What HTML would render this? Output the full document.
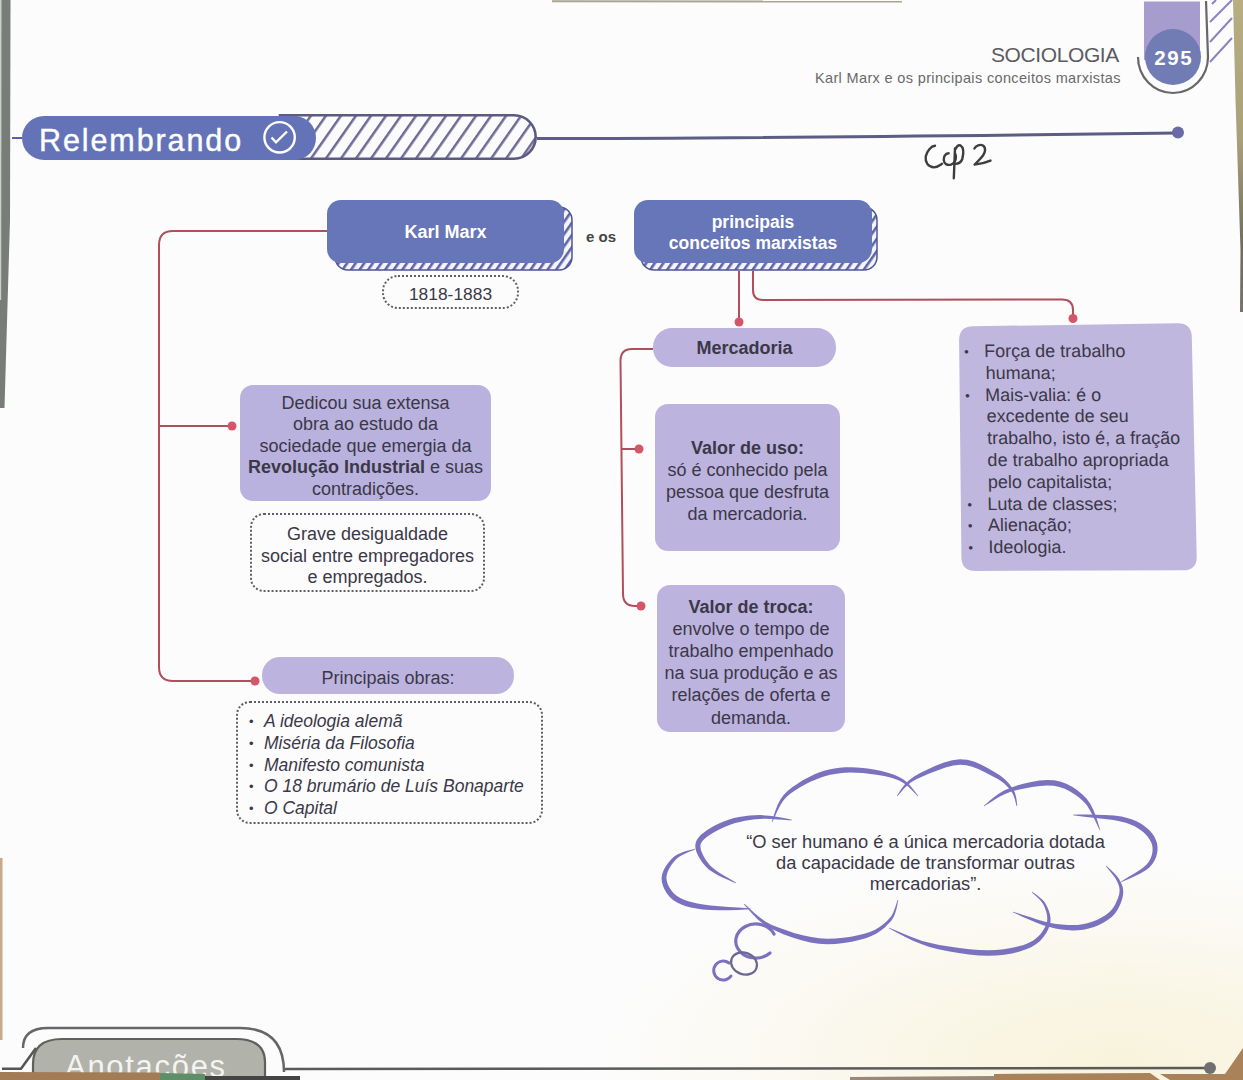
<!DOCTYPE html>
<html><head><meta charset="utf-8">
<style>
html,body{margin:0;padding:0;}
body{width:1243px;height:1080px;position:relative;overflow:hidden;background:#fcfcfc;font-family:"Liberation Sans",sans-serif;color:#3b3848;}
.a{position:absolute;}
svg.ov{position:absolute;left:0;top:0;}
.box{position:absolute;background:#bcb3de;border-radius:13px;}
.t{position:absolute;text-align:center;font-size:18px;line-height:21.6px;white-space:nowrap;}
.blue{position:absolute;background:#6676b8;border-radius:14px;}
.wt{color:#fff;font-weight:bold;}
.dot{position:absolute;border:2px dotted #5e5e66;border-radius:14px;}
b{font-weight:bold;}
.bl{position:absolute;left:2px;top:0;font-size:13px;}
</style></head><body>

<div class="a" style="left:0;top:0;width:1243px;height:1080px;background:radial-gradient(ellipse 520px 200px at 1120px 1060px, rgba(247,239,205,0.7), rgba(247,239,205,0) 100%);"></div>
<svg class="ov" width="1243" height="1080" viewBox="0 0 1243 1080">
<defs>
<pattern id="h1" patternUnits="userSpaceOnUse" width="12.3" height="20" patternTransform="rotate(35)">
<rect width="12.3" height="20" fill="#fbfbfd"/><rect x="0" y="0" width="2.5" height="20" fill="#6d6b94"/>
</pattern>
<pattern id="h2" patternUnits="userSpaceOnUse" width="7" height="7" patternTransform="rotate(35)">
<rect width="7" height="7" fill="#f4f4fa"/><rect x="0" y="0" width="2.6" height="7" fill="#5f66a8"/>
</pattern>
</defs>
<!-- left dark bar -->
<path d="M0 0 L10.5 0 L10 220 L4.5 408 L0 408Z" fill="#787d78"/><path d="M0 0 L1.5 0 L1.2 300 L0 300Z" fill="#c9d0c9"/>
<!-- top edge -->
<path d="M552 1.2 L902 1.6" stroke="#8c8870" stroke-width="2" opacity="0.75"/>
<!-- right strip -->
<linearGradient id="ks" x1="0" y1="0" x2="0" y2="1"><stop offset="0" stop-color="#b9ae80"/><stop offset="0.45" stop-color="#a9a07a"/><stop offset="0.8" stop-color="#6f6b5c"/><stop offset="1" stop-color="#77746a"/></linearGradient>
<path d="M1233 0 L1243 0 L1243 312 L1240 312 L1240.5 250 L1235.5 100Z" fill="url(#ks)"/>
<path d="M0 858 L2.5 858 L2.5 1040 L0 1040Z" fill="#c9a98a"/>

<!-- Relembrando hatched pill -->
<path d="M280 115.3 L514 115.3 A21.7 21.7 0 0 1 514 158.7 L280 158.7Z" fill="url(#h1)" stroke="#5a5a82" stroke-width="2.6"/>
<path d="M22 138 A22 22 0 0 1 44 116 L296 116 A22 22 0 0 1 316 138 A22 22 0 0 1 296 160 L44 160 A22 22 0 0 1 22 138Z" fill="#6473b8"/>
<path d="M12 138 L22 138" stroke="#5d5f9e" stroke-width="2"/>
<path d="M537 138.5 Q 760 138.3 1178 133" fill="none" stroke="#5b5d85" stroke-width="3"/>
<circle cx="1178" cy="132.5" r="6" fill="#6b6aa8"/>
<circle cx="279.6" cy="137.3" r="15.2" fill="none" stroke="#fff" stroke-width="2.4"/>
<path d="M271.5 137.5 L276 142.3 L287 131.5" fill="none" stroke="#fff" stroke-width="2.4"/>

<!-- page tab -->
<path d="M1144 1.5 L1200 1.5 L1200 60 L1144 60Z" fill="#a79cce"/>
<circle cx="1173" cy="57" r="28" fill="#717cb4"/>
<path d="M1138 57 A35 36 0 0 0 1208 57 L1206 1" fill="none" stroke="#66666c" stroke-width="2.2"/>
<path d="M1210 62 L1232 38 M1210 42 L1232 18 M1210 22 L1232 0 M1212 4 L1216 0" stroke="#8a84c0" stroke-width="2"/>

<!-- blue box shadows -->
<rect x="335" y="207" width="237" height="63" rx="13" fill="url(#h2)" stroke="#4f5595" stroke-width="1.5"/>
<rect x="641" y="207" width="236" height="63" rx="13" fill="url(#h2)" stroke="#4f5595" stroke-width="1.5"/>

<!-- red connectors -->
<g fill="none" stroke="#b04e5d" stroke-width="2">
<path d="M327 231 L173 231 Q159 231 159 245 L159 667 Q159 681 173 681 L255 681"/>
<path d="M159 426 L232 426"/>
<path d="M739 271 L739 322"/>
<path d="M753 271 L753 290 Q753 300 763 300 L1062 299.5 Q1073 299.5 1073 310 L1073 318"/>
<path d="M653 349 L632 349 Q620.5 349 620.5 361 L623 594 Q623.2 606 635 606 L641 606"/>
<path d="M622 449 L639 449"/>
</g>
<g fill="#d5566a">
<circle cx="232" cy="426" r="4.5"/>
<circle cx="255" cy="681" r="4.5"/>
<circle cx="739" cy="322" r="4.5"/>
<circle cx="1073" cy="318.5" r="4.5"/>
<circle cx="639" cy="449" r="4.5"/>
<circle cx="641" cy="606" r="4.5"/>
</g>

<!-- cloud -->
<g fill="#7a72bf">
<path d="M772.3 822.1 L773.7 819.3 L775.5 815.3 L777.6 810.6 L780.1 805.7 L783.0 801.1 L786.2 797.2 L790.2 793.7 L794.9 790.4 L800.1 787.2 L805.5 784.3 L810.9 781.6 L816.0 779.4 L820.9 777.5 L825.6 776.0 L830.3 774.8 L835.1 773.9 L840.0 773.2 L845.1 772.7 L850.7 772.6 L856.6 772.7 L862.7 773.1 L868.7 773.7 L874.4 774.4 L879.6 775.2 L884.2 776.0 L888.3 776.9 L892.2 778.0 L895.7 779.2 L899.1 780.6 L902.2 782.2 L905.3 784.2 L908.4 786.8 L911.3 789.6 L913.9 792.3 L916.1 794.6 L917.8 796.2 L918.2 795.8 L916.8 794.0 L914.9 791.4 L912.6 788.4 L909.9 785.3 L906.9 782.3 L903.8 779.8 L900.5 777.8 L897.0 776.1 L893.3 774.5 L889.4 773.2 L885.1 771.9 L880.4 770.8 L875.2 769.8 L869.4 768.8 L863.2 768.0 L856.9 767.4 L850.7 767.2 L844.9 767.3 L839.4 767.7 L834.2 768.4 L829.1 769.5 L824.0 770.8 L819.0 772.5 L814.0 774.6 L808.7 777.2 L803.2 780.1 L797.8 783.4 L792.6 787.0 L787.8 790.8 L783.8 794.8 L780.4 799.4 L777.8 804.5 L775.7 809.8 L774.0 814.7 L772.7 818.9 L771.7 821.9Z"/>
<path d="M792.0 819.7 L788.6 819.0 L783.7 818.1 L778.0 817.0 L771.8 816.1 L765.7 815.4 L760.0 815.1 L754.7 815.2 L749.4 815.6 L744.2 816.2 L739.0 817.0 L734.0 818.1 L729.2 819.5 L724.3 821.2 L719.5 823.3 L714.8 825.6 L710.4 828.0 L706.5 830.5 L703.3 832.9 L700.7 835.1 L698.6 837.4 L696.9 839.7 L695.8 842.4 L695.3 845.3 L695.5 848.4 L696.4 851.7 L697.9 855.3 L700.0 859.0 L702.5 862.7 L705.5 866.2 L708.8 869.4 L712.9 872.3 L717.9 875.2 L723.2 877.8 L728.4 880.1 L732.7 881.9 L735.9 883.3 L736.1 882.7 L733.3 880.9 L729.1 878.5 L724.3 875.7 L719.3 872.7 L714.8 869.6 L711.2 866.6 L708.5 863.6 L706.0 860.2 L703.9 856.7 L702.2 853.3 L701.0 850.2 L700.5 847.6 L700.4 845.6 L700.7 843.9 L701.4 842.4 L702.6 840.8 L704.4 839.0 L706.7 837.1 L709.6 835.0 L713.2 832.7 L717.3 830.4 L721.8 828.2 L726.3 826.2 L730.8 824.5 L735.3 823.1 L740.1 821.9 L744.9 820.8 L749.9 820.0 L755.0 819.3 L760.0 818.9 L765.5 818.8 L771.6 819.0 L777.7 819.4 L783.5 819.8 L788.4 820.2 L792.0 820.3Z"/>
<path d="M694.9 848.7 L692.5 849.4 L689.2 850.2 L685.3 851.3 L681.2 852.7 L677.3 854.5 L673.9 856.8 L671.1 859.5 L668.3 862.7 L665.8 866.3 L663.7 870.1 L662.2 874.0 L661.6 878.0 L661.9 881.9 L663.0 886.0 L664.8 889.9 L667.1 893.7 L670.0 897.2 L673.4 900.2 L677.1 902.6 L681.3 904.6 L685.9 906.2 L690.9 907.5 L696.5 908.6 L702.7 909.4 L710.2 910.0 L719.2 910.2 L728.7 910.2 L737.8 909.9 L745.5 909.6 L751.0 909.3 L751.0 908.7 L745.6 908.1 L737.8 907.6 L728.8 906.9 L719.4 906.3 L710.6 905.5 L703.3 904.6 L697.4 903.5 L692.2 902.3 L687.5 901.0 L683.4 899.5 L679.8 897.8 L676.6 895.8 L673.9 893.4 L671.4 890.6 L669.4 887.4 L667.8 884.2 L666.8 881.0 L666.4 878.0 L666.7 875.1 L667.7 871.8 L669.3 868.4 L671.4 865.0 L673.7 861.9 L676.1 859.2 L678.8 857.0 L682.3 855.0 L686.0 853.2 L689.7 851.6 L692.9 850.4 L695.1 849.3Z"/>
<path d="M743.8 904.2 L746.2 906.9 L749.3 910.5 L753.2 914.8 L757.8 919.4 L763.1 923.8 L769.2 927.6 L776.1 931.0 L784.0 934.4 L792.5 937.5 L801.4 940.2 L810.2 942.4 L818.7 943.7 L827.0 944.2 L835.5 943.9 L843.8 943.1 L851.8 941.7 L859.1 940.1 L865.7 938.2 L871.4 936.0 L876.5 933.4 L880.9 930.5 L884.8 927.4 L888.1 924.1 L891.1 920.9 L893.5 917.3 L895.2 913.3 L896.4 909.3 L897.2 905.5 L897.8 902.3 L898.3 900.1 L897.7 899.9 L896.9 902.1 L895.9 905.2 L894.7 908.7 L893.3 912.5 L891.4 916.0 L888.9 919.1 L886.0 921.9 L882.6 924.7 L878.8 927.4 L874.6 929.9 L869.8 932.0 L864.3 933.8 L858.0 935.3 L850.9 936.7 L843.2 937.8 L835.2 938.5 L827.1 938.7 L819.3 938.3 L811.2 937.1 L802.7 935.2 L794.0 932.9 L785.5 930.1 L777.7 927.3 L770.8 924.4 L764.9 921.2 L759.5 917.3 L754.7 913.3 L750.5 909.4 L747.0 906.1 L744.2 903.8Z"/>
<path d="M888.9 928.3 L893.0 930.5 L898.6 933.5 L905.4 937.1 L913.0 940.7 L921.2 944.1 L929.5 946.9 L938.4 949.2 L948.3 951.3 L958.6 953.1 L968.9 954.5 L978.9 955.4 L988.0 955.7 L996.4 955.5 L1004.4 954.7 L1012.0 953.4 L1019.0 951.7 L1025.4 949.6 L1031.1 947.2 L1035.9 944.3 L1040.1 940.9 L1043.4 937.1 L1046.1 933.2 L1048.2 929.3 L1049.7 925.6 L1050.5 921.8 L1050.5 918.0 L1049.9 914.3 L1048.8 910.7 L1047.5 907.4 L1046.0 904.4 L1044.1 901.6 L1041.6 899.0 L1038.8 896.7 L1036.1 894.6 L1033.8 893.0 L1032.2 891.8 L1031.8 892.2 L1033.2 893.7 L1035.4 895.6 L1037.8 897.8 L1040.3 900.3 L1042.4 902.9 L1044.0 905.6 L1045.1 908.4 L1046.2 911.6 L1047.0 914.9 L1047.3 918.2 L1047.1 921.4 L1046.3 924.4 L1044.8 927.6 L1042.7 931.0 L1040.2 934.4 L1037.0 937.6 L1033.3 940.4 L1028.9 942.8 L1023.7 944.9 L1017.7 946.6 L1011.0 948.1 L1003.7 949.3 L996.0 950.0 L988.0 950.3 L979.2 950.0 L969.5 949.2 L959.3 948.1 L949.1 946.6 L939.3 944.9 L930.5 943.1 L922.3 940.9 L914.1 938.0 L906.4 934.9 L899.4 932.0 L893.5 929.4 L889.1 927.7Z"/>
<path d="M897.2 796.2 L899.1 794.3 L901.3 791.7 L904.0 788.6 L907.2 785.4 L911.1 782.3 L915.9 779.5 L921.9 776.7 L929.3 773.5 L937.3 770.4 L945.5 767.6 L953.3 765.6 L960.1 764.7 L966.2 765.2 L972.2 766.7 L978.2 768.9 L983.9 771.7 L989.2 774.4 L993.9 776.9 L997.9 779.1 L1001.3 781.3 L1004.2 783.6 L1006.7 786.0 L1008.9 788.3 L1010.9 790.7 L1012.5 793.3 L1013.8 796.2 L1014.8 799.1 L1015.5 801.9 L1016.1 804.3 L1016.7 806.1 L1017.3 805.9 L1017.1 804.2 L1016.8 801.7 L1016.4 798.7 L1015.7 795.5 L1014.7 792.3 L1013.1 789.3 L1011.2 786.5 L1009.1 783.7 L1006.6 781.0 L1003.6 778.3 L1000.1 775.6 L996.1 773.1 L991.5 770.3 L986.2 767.2 L980.3 764.2 L973.9 761.5 L967.1 759.8 L959.9 759.3 L952.2 760.3 L944.0 762.6 L935.5 765.8 L927.5 769.4 L920.2 773.1 L914.1 776.5 L909.3 779.9 L905.5 783.6 L902.4 787.4 L900.1 790.8 L898.2 793.7 L896.8 795.8Z"/>
<path d="M984.2 806.2 L987.0 804.6 L990.6 802.2 L994.9 799.4 L999.8 796.5 L1005.1 793.9 L1010.7 791.8 L1017.0 790.1 L1024.4 788.5 L1032.2 787.0 L1039.9 785.9 L1047.3 785.4 L1053.7 785.7 L1059.4 786.9 L1064.8 788.8 L1070.0 791.4 L1074.9 794.4 L1079.4 797.8 L1083.5 801.4 L1087.1 805.6 L1090.3 810.9 L1093.3 816.6 L1095.8 822.1 L1098.0 826.8 L1099.7 830.1 L1100.3 829.9 L1099.1 826.4 L1097.6 821.4 L1095.6 815.6 L1093.2 809.4 L1090.1 803.6 L1086.5 798.6 L1082.4 794.4 L1077.7 790.5 L1072.6 787.0 L1066.9 784.0 L1060.9 781.7 L1054.3 780.3 L1047.2 779.9 L1039.3 780.5 L1031.2 781.9 L1023.3 783.8 L1015.8 785.9 L1009.3 788.2 L1003.6 790.8 L998.3 794.0 L993.6 797.5 L989.6 800.8 L986.3 803.7 L983.8 805.8Z"/>
<path d="M1073.0 815.3 L1078.5 816.1 L1086.3 817.0 L1095.4 817.9 L1104.8 819.0 L1113.6 820.1 L1120.5 821.4 L1125.8 822.8 L1130.4 824.4 L1134.2 826.1 L1137.5 828.0 L1140.5 830.0 L1143.2 832.1 L1145.7 834.4 L1147.8 836.8 L1149.6 839.4 L1151.0 842.0 L1152.0 844.6 L1152.5 847.2 L1152.6 850.0 L1152.3 852.8 L1151.6 855.8 L1150.5 858.8 L1148.8 861.8 L1146.6 864.6 L1143.3 867.6 L1138.7 870.8 L1133.5 874.1 L1128.3 877.1 L1123.9 879.7 L1120.9 881.7 L1121.1 882.3 L1124.5 880.8 L1129.2 878.8 L1134.7 876.3 L1140.3 873.5 L1145.4 870.5 L1149.4 867.4 L1152.2 864.2 L1154.4 860.8 L1156.0 857.3 L1157.0 853.7 L1157.5 850.2 L1157.5 846.8 L1157.0 843.3 L1155.9 839.9 L1154.3 836.6 L1152.2 833.5 L1149.6 830.6 L1146.8 827.9 L1143.7 825.5 L1140.3 823.3 L1136.6 821.3 L1132.2 819.4 L1127.3 817.9 L1121.5 816.6 L1114.1 815.6 L1105.2 815.0 L1095.6 814.7 L1086.4 814.6 L1078.5 814.6 L1073.0 814.7Z"/>
<path d="M1105.8 866.2 L1107.1 867.8 L1109.0 870.1 L1111.2 872.7 L1113.4 875.4 L1115.4 878.2 L1116.8 880.7 L1117.8 883.0 L1118.7 885.3 L1119.3 887.5 L1119.6 889.8 L1119.5 892.1 L1119.1 894.6 L1118.2 897.5 L1116.9 900.8 L1115.3 904.2 L1113.4 907.4 L1111.0 910.5 L1108.3 913.1 L1105.0 915.4 L1101.1 917.8 L1096.8 919.9 L1092.1 921.7 L1087.3 923.2 L1082.5 924.3 L1077.7 924.9 L1072.6 925.1 L1067.3 925.0 L1061.8 924.6 L1056.2 923.9 L1050.5 922.9 L1044.2 921.5 L1037.1 919.4 L1029.9 917.1 L1023.1 914.9 L1017.3 912.9 L1013.1 911.7 L1012.9 912.3 L1016.8 914.1 L1022.4 916.7 L1029.0 919.6 L1036.0 922.6 L1043.1 925.2 L1049.5 927.1 L1055.4 928.4 L1061.2 929.4 L1066.9 930.1 L1072.6 930.4 L1078.1 930.3 L1083.5 929.7 L1088.7 928.6 L1094.0 926.9 L1099.0 924.9 L1103.7 922.5 L1108.0 919.8 L1111.7 916.9 L1114.8 913.7 L1117.4 910.0 L1119.4 906.2 L1121.0 902.4 L1122.2 898.8 L1122.9 895.4 L1123.3 892.3 L1123.1 889.4 L1122.6 886.7 L1121.7 884.2 L1120.5 881.8 L1119.2 879.3 L1117.4 876.7 L1115.0 874.1 L1112.5 871.5 L1109.9 869.1 L1107.8 867.2 L1106.2 865.8Z"/>
</g>
<g fill="none" stroke="#7a72bf" stroke-linecap="round">
<path d="M774 934 A20 17 0 1 0 770 953" stroke-width="3.2"/>
<ellipse cx="744" cy="963.5" rx="13.2" ry="10.8" stroke="#6a6890" stroke-width="2.2" transform="rotate(20 744 963.5)"/>
<path d="M729 963 A9.5 9.5 0 1 0 731 976" stroke-width="3"/>
</g>
<!-- bottom line -->
<path d="M284 1069 L1210 1068" stroke="#5a5a5a" stroke-width="2.5"/>
<circle cx="1210" cy="1068" r="6" fill="#707070"/>
<path d="M2 1068.7 L21 1068.7 L36 1048" fill="none" stroke="#555" stroke-width="2.5"/>
<path d="M23 1048 Q23 1028 48 1028 L240 1028 Q284 1028 284 1072" fill="none" stroke="#666" stroke-width="2.5"/>
<path d="M62 1039 L236 1039 Q265 1039 265 1062 L265 1080 L33 1080 L33 1064 Q33 1039 62 1039Z" fill="#b1b2a9" stroke="#5f605a" stroke-width="2.2"/>
<path d="M994 1074 L1150 1073 L1160 1080 L994 1080Z" fill="#a9825a"/><path d="M1160 1074 L1225 1074 L1243 1048 L1243 1080 L1170 1080Z" fill="#a9825a"/><path d="M850 1077 L994 1076 L994 1080 L850 1080Z" fill="#6d5a48" opacity="0.7"/>

<!-- Cap 2 handwriting -->
<g fill="none" stroke="#3d3d3d" stroke-width="2.4" stroke-linecap="round" stroke-linejoin="round">
<path d="M935 145.7 C 931 146, 927 151, 925.7 156.5 C 925 162, 928 167, 934 167.4 C 937.5 167.4, 940 165, 942 163.8"/>
<path d="M948.6 153.3 C 945 153.5, 943.5 157, 943.8 160 C 944 164, 947 165.5, 951 164.6 C 954 163.5, 956 160, 955.9 157 C 955.8 154.5, 955 153.3, 955 153.3"/>
<path d="M955 148.5 L 953.8 178.3"/>
<path d="M955.9 148.5 C 957 146, 959 145, 960.5 145.5 C 963 147, 964 152, 962.3 159 C 961 162.5, 958 164.3, 953.8 163.8"/>
<path d="M974.4 148.5 C 976 145.5, 980 144, 983 145.5 C 986 147.5, 985.5 152, 983 155.5 C 980.5 159, 976.5 162.5, 974.6 164.6 C 979 164.2, 986 162.5, 990.5 160.6"/>
</g>
</svg>

<!-- header text -->
<div class="a" id="soc" style="left:991px;top:43px;font-size:21px;color:#5b5b60;letter-spacing:-0.4px;line-height:24px;">SOCIOLOGIA</div>
<div class="a" id="sub" style="left:815px;top:69px;font-size:14.5px;color:#6a6a6a;letter-spacing:0.35px;line-height:18px;white-space:nowrap;">Karl Marx e os principais conceitos marxistas</div>
<div class="a" id="pn" style="left:1145px;top:46px;width:56px;text-align:center;font-size:20.5px;font-weight:bold;color:#fff;line-height:24px;letter-spacing:1.6px;text-indent:1.6px;">295</div>

<div class="a" id="rel" style="left:39px;top:121.5px;font-size:30.5px;color:#fff;letter-spacing:1.9px;line-height:36px;-webkit-text-stroke:0.4px #fff;">Relembrando</div>

<!-- blue boxes -->
<div class="blue" style="left:327px;top:200px;width:237px;height:63px;"></div>
<div class="t wt" id="km" style="left:327px;top:221.5px;width:237px;">Karl Marx</div>
<div class="a" id="eos" style="left:586px;top:227px;font-size:15px;font-weight:bold;color:#444;line-height:20px;">e os</div>
<div class="blue" style="left:634px;top:200px;width:238px;height:63px;"></div>
<div class="t wt" id="pc" style="left:634px;top:212px;width:238px;font-size:17.5px;line-height:21px;">principais<br>conceitos marxistas</div>

<div class="dot" style="left:382px;top:275px;width:133px;height:30px;border-radius:16px;"></div>
<div class="t" id="yr" style="left:384px;top:283.5px;width:133px;font-size:17.4px;">1818-1883</div>

<!-- left column -->
<div class="box" style="background:#bab2de;left:240px;top:385px;width:251px;height:116px;"></div>
<div class="t" id="ded" style="left:240px;top:392.5px;width:251px;">Dedicou sua extensa<br>obra ao estudo da<br>sociedade que emergia da<br><b>Revolução Industrial</b> e suas<br>contradições.</div>

<div class="dot" style="left:250px;top:513px;width:231px;height:75px;"></div>
<div class="t" id="grv" style="left:250px;top:524px;width:235px;">Grave desigualdade<br>social entre empregadores<br>e empregados.</div>

<div class="box" style="background:#bcb4df;left:262px;top:657px;width:252px;height:37px;border-radius:18px;"></div>
<div class="t" id="pob" style="left:262px;top:667.5px;width:252px;">Principais obras:</div>

<div class="dot" style="left:236px;top:701px;width:303px;height:119px;"></div>
<div class="t" id="obr" style="left:249px;top:711px;text-align:left;font-style:italic;font-size:17.5px;line-height:21.8px;"><div style="position:relative;padding-left:15px;"><span class="bl" style="left:0;font-style:normal;">•</span>A ideologia alemã</div><div style="position:relative;padding-left:15px;"><span class="bl" style="left:0;font-style:normal;">•</span>Miséria da Filosofia</div><div style="position:relative;padding-left:15px;"><span class="bl" style="left:0;font-style:normal;">•</span>Manifesto comunista</div><div style="position:relative;padding-left:15px;"><span class="bl" style="left:0;font-style:normal;">•</span>O 18 brumário de Luís Bonaparte</div><div style="position:relative;padding-left:15px;"><span class="bl" style="left:0;font-style:normal;">•</span>O Capital</div></div>

<!-- middle column -->
<div class="box" style="left:653px;top:328px;width:183px;height:39px;border-radius:19px;"></div>
<div class="t" id="mer" style="left:653px;top:338px;width:183px;font-weight:bold;">Mercadoria</div>

<div class="box" style="left:655px;top:404px;width:185px;height:147px;"></div>
<div class="t" id="vu" style="left:655px;top:436.5px;width:185px;line-height:22px;"><b>Valor de uso:</b><br>só é conhecido pela<br>pessoa que desfruta<br>da mercadoria.</div>

<div class="box" style="left:657px;top:585px;width:188px;height:147px;"></div>
<div class="t" id="vt" style="left:657px;top:595.5px;width:188px;line-height:22.2px;"><b>Valor de troca:</b><br>envolve o tempo de<br>trabalho empenhado<br>na sua produção e as<br>relações de oferta e<br>demanda.</div>

<!-- right box -->
<svg class="ov" width="1243" height="1080"><path d="M959.1 340.5 Q959.0 326.5 973.0 326.3 L1177.5 323.2 Q1191.5 323.0 1191.8 337.0 L1196.7 556.3 Q1197.0 570.3 1183.0 570.3 L975.5 571.0 Q961.5 571.0 961.4 557.0 Z" fill="#c0b7de"/></svg>
<div class="t" id="rb" style="left:962px;top:341px;text-align:left;line-height:21.8px;transform:skewX(1.2deg);transform-origin:0 0;"><div style="position:relative;padding-left:22px;"><span class="bl">•</span>Força de trabalho</div><div style="position:relative;padding-left:23px;">humana;</div><div style="position:relative;padding-left:22px;"><span class="bl">•</span>Mais-valia: é o</div><div style="position:relative;padding-left:23px;">excedente de seu</div><div style="position:relative;padding-left:23px;">trabalho, isto é, a fração</div><div style="position:relative;padding-left:23px;">de trabalho apropriada</div><div style="position:relative;padding-left:23px;">pelo capitalista;</div><div style="position:relative;padding-left:22px;"><span class="bl">•</span>Luta de classes;</div><div style="position:relative;padding-left:22px;"><span class="bl">•</span>Alienação;</div><div style="position:relative;padding-left:22px;"><span class="bl">•</span>Ideologia.</div></div>

<!-- quote -->
<div class="t" id="qt" style="left:700px;top:831px;width:451px;font-size:18.3px;line-height:21px;">“O ser humano é a única mercadoria dotada<br>da capacidade de transformar outras<br>mercadorias”.</div>

<div class="a" id="ano" style="left:65px;top:1049px;font-size:31px;color:#f4f4f2;letter-spacing:1.7px;line-height:36px;">Anotações</div>
<svg class="ov" width="1243" height="1080" style="pointer-events:none"><path d="M0 1072 L160 1072.5 L160 1080 L0 1080Z" fill="#a37c56"/><path d="M160 1073 L205 1074 L205 1080 L160 1080Z" fill="#5f8f66"/><path d="M205 1076 L300 1076 L300 1080 L205 1080Z" fill="#444"/></svg>
</body></html>
